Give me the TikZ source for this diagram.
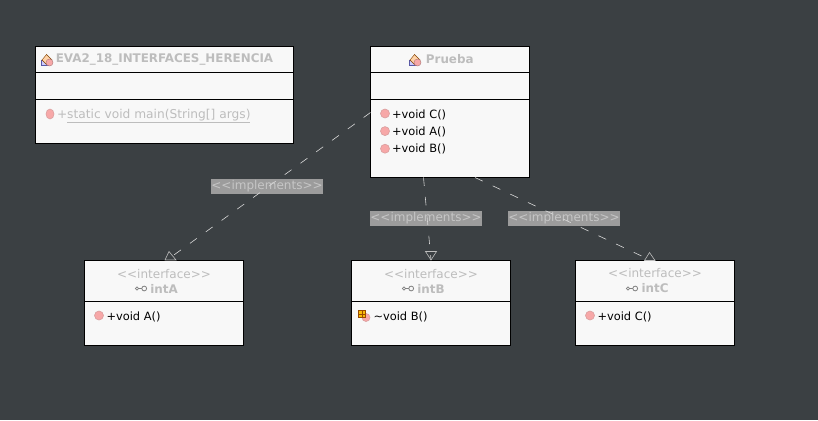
\documentclass[tikz,border=0pt]{standalone}
\usepackage{fontspec}
\setmainfont{DejaVu Sans}
\usetikzlibrary{shapes,positioning,calc}
\definecolor{canvas}{HTML}{3B4043}
\definecolor{boxfill}{HTML}{F8F8F8}
\definecolor{titlegray}{HTML}{BDBDBD}
\definecolor{labelfill}{HTML}{9C9C9C}
\definecolor{labeltext}{HTML}{C6C6C6}
\definecolor{dashgray}{HTML}{D8D8D8}
\definecolor{methodpink}{HTML}{F7A8A8}
\newcommand{\namepart}[3]{\parbox[c][#2][c]{#1}{\centering\baselineskip=15pt #3}}
\newcommand{\methodpart}[3]{\parbox[c][#2][t]{#1}{\raggedright\fontsize{11.4}{17}\selectfont\rule{0pt}{18pt}\hspace*{21.5pt}#3}}
\newcommand{\classname}[1]{{\fontsize{11.9}{15}\selectfont\bfseries\color{titlegray}#1}}
\newcommand{\stereotype}{{\fontsize{12}{15}\selectfont\color{titlegray}<\kern0pt<interface>\kern0pt>}}
\newcommand{\implementstext}{\raisebox{-1.5pt}{<\kern0pt<implements>\kern0pt>}}

\begin{document}
\begin{tikzpicture}[x=1pt,y=-1pt,
  relation/.style={rectangle split, rectangle split parts=#1, draw=black, line width=1pt, fill=boxfill, inner sep=0pt, outer sep=0pt, anchor=north west},
  implementslabel/.style={fill=labelfill, text=labeltext, inner sep=0pt, minimum width=112pt, minimum height=15pt, font=\fontsize{12}{15}\selectfont},
  realization/.style={dashgray, line width=0.6pt, dash pattern=on 8.5pt off 11pt},
  hollowtip/.style={draw=titlegray, line width=0.6pt},
  methodicon/.style={circle, draw=methodpink!75!gray, fill=methodpink, line width=0.6pt, inner sep=0pt, minimum size=9pt},
  classicon/.pic={
    \fill[blue!20!white, draw=blue!30!gray, line width=0.4pt] (-6,0.5) rectangle (2,5.5);
    \fill[orange!35!white, draw=orange!50!black, line width=0.4pt] (-0.5,-5.5) -- (5,0) -- (-0.5,4.5) -- (-5,0) -- cycle;
    \fill[methodpink, draw=methodpink!70!black, line width=0.4pt] (2.5,2.5) circle (3.5);
  },
  keyicon/.pic={
    \draw[gray, line width=1pt] (-5.5,0) -- (2,0);
    \draw[gray, line width=0.8pt, fill=boxfill] (3.2,0) circle (2.4);
    \draw[gray, line width=0.8pt, fill=boxfill] (-4,0) circle (1.6);
  }]
\useasboundingbox (0,0) rectangle (818,420);
\fill[canvas] (0,0) rectangle (818,420);

% CLASSES

\node [relation=3] (maintest) at (35.5,46.5)
{\namepart{258pt}{25pt}{\classname{EVA2\_18\_INTERFACES\_HERENCIA}}%
\nodepart{two} \namepart{258pt}{26pt}{}%
\nodepart{three} \methodpart{258pt}{43pt}{\fontsize{12.2}{17}\selectfont\color{titlegray}+\underline{static void main(String[] args)}}
};

\node [relation=3, right=77pt of maintest.north east, anchor=north west] (prueba)
{\namepart{158.5pt}{25pt}{\classname{Prueba}}%
\nodepart{two} \namepart{158.5pt}{26pt}{}%
\nodepart{three} \methodpart{158.5pt}{76.5pt}{+void C()\\\hspace*{21.5pt}+void A()\\\hspace*{21.5pt}+void B()}
};

% INTERFACES

\node [relation=2] (inta) at (84.5,260.5)
{\namepart{159pt}{40pt}{\stereotype\\\classname{intA}}%
\nodepart{two} \methodpart{159pt}{43pt}{\hspace*{0.5pt}+void A()}
};

\node [relation=2, right=108pt of inta.north east, anchor=north west] (intb)
{\namepart{159pt}{40pt}{\stereotype\\\classname{intB}}%
\nodepart{two} \methodpart{159pt}{43pt}{\hspace*{0.5pt}\textasciitilde void B()}
};

\node [relation=2, right=65pt of intb.north east, anchor=north west] (intc)
{\namepart{159pt}{40pt}{\stereotype\\\classname{intC}}%
\nodepart{two} \methodpart{159pt}{43pt}{\hspace*{0.5pt}+void C()}
};

% ICONS

\pic at (47,60) {classicon};
\pic at (415,60) {classicon};
\pic at (141,288.5) {keyicon};
\pic at (408,288.5) {keyicon};
\pic at (632,288.5) {keyicon};

\node [methodicon, ellipse, minimum width=8pt, minimum height=10pt] (mainicon) at (50,114) {};
\node [methodicon] (conea) at (385,113.5) {};
\node [methodicon, below=8pt of conea] (coneb) {};
\node [methodicon, below=8pt of coneb] (conec) {};
\node [methodicon] (aicon) at (99,315.5) {};
\node [methodicon] (cicon) at (590,315.5) {};
\node [methodicon, minimum size=8pt] (bicon) at (366,317.5) {};
\draw[orange!60!black, fill=yellow!50!orange, line width=0.5pt] (358.5,310.5) rectangle (365.5,317.5);
\draw[orange!60!black, line width=0.5pt] (362,310.5) -- (362,317.5) (358.5,314) -- (365.5,314);

% LINKS

\node [implementslabel] (labela) at (267,186.5) {\implementstext};
\node [implementslabel] (labelb) at (426,218.5) {\implementstext};
\node [implementslabel] (labelc) at (564,218.5) {\implementstext};

\coordinate (outa) at (370.5,112.5);
\coordinate (outb) at (423.5,177.5);
\coordinate (outc) at (475,177.5);
\coordinate (ina) at (167,260);
\coordinate (inb) at (431,260);
\coordinate (inc) at (650,260);

\draw [realization] (outa) -- (ina);
\draw [realization] (outb) -- (inb);
\draw [realization] (outc) -- (inc);

\draw [hollowtip] (169,251.5) -- (165,260) -- (176,260) -- cycle;
\draw [hollowtip] (431,260) -- (425.5,251.5) -- (436.5,251.5) -- cycle;
\draw [hollowtip] (649.5,252.5) -- (644.5,260.5) -- (655,260.5) -- cycle;

\end{tikzpicture}
\end{document}
